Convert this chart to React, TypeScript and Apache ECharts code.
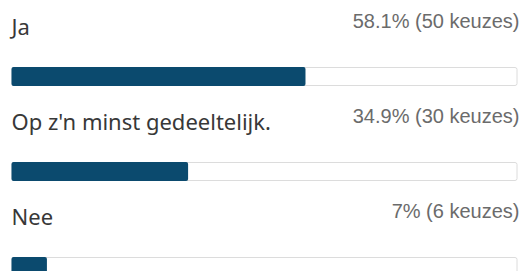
import React, { useEffect, useRef } from "react";
import * as echarts from "echarts";

const categories = ["Ja", "Op z'n minst gedeeltelijk.", "Nee"];
const percentages = [58.1, 34.9, 7];
const counts = [50, 30, 6];
const trackMax = [100, 100, 100];

export default function App() {
  const ref = useRef<HTMLDivElement>(null);
  useEffect(() => {
    document.body.style.margin = "0";
    const chart = echarts.init(ref.current!, null, { renderer: "svg" });
    chart.setOption({
      animation: false,
      backgroundColor: "#ffffff",
      grid: { left: 11.5, top: 29, width: 506, height: 285, containLabel: false, outerBoundsMode: "none" },
      xAxis: { type: "value", min: 0, max: 100, show: false },
      yAxis: {
        type: "category",
        data: categories,
        inverse: true,
        show: false,
      },
      series: [
        {
          type: "bar",
          data: trackMax,
          barWidth: 19,
          barGap: "-100%",
          silent: true,
          z: 1,
          itemStyle: { color: "#ffffff", borderColor: "#dcdcdc", borderWidth: 1, borderRadius: 2 },
          label: {
            show: true,
            position: ["100%", -46],
            offset: [2, 0],
            align: "right",
            verticalAlign: "middle",
            fontFamily: "Liberation Sans",
            fontSize: 20,
            color: "#6b6b6b",
            formatter: (p: any) => `${percentages[p.dataIndex]}% (${counts[p.dataIndex]} keuzes)`,
          },
        },
        {
          type: "bar",
          data: percentages,
          barWidth: 19,
          z: 2,
          itemStyle: { color: "#0b4a6e", borderRadius: 2 },
          label: {
            show: true,
            position: [0, -41],
            align: "left",
            verticalAlign: "middle",
            fontFamily: "Noto Sans",
            fontSize: 22,
            color: "#383838",
            formatter: (p: any) => p.name,
          },
        },
      ],
    });
    return () => chart.dispose();
  }, []);
  return (
    <div
      ref={ref}
      style={{ position: "absolute", left: 0, top: 0, width: 524, height: 271 }}
    />
  );
}
